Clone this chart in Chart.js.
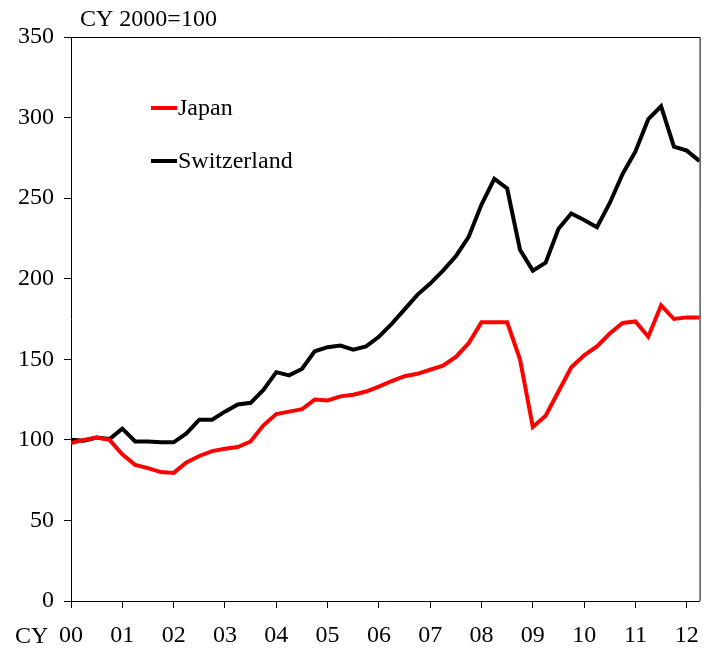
<!DOCTYPE html>
<html lang="en">
<head>
  <meta charset="utf-8">
  <title>Japan vs Switzerland</title>
  <script src="https://cdn.jsdelivr.net/npm/chart.js@4/dist/chart.umd.min.js"></script>
  <style>
    html, body { margin: 0; padding: 0; background: #fff; }
    #wrap { width: 712px; height: 652px; }
  </style>
</head>
<body>
<div id="wrap"><canvas id="myChart" width="712" height="652"></canvas></div>
<script>
// quarterly index, CY 2000 = 100, 2000Q1 .. 2012Q2
var yearLabels = ["00","01","02","03","04","05","06","07","08","09","10","11","12"];
var japan = [98, 100, 101.5, 100, 91, 84.5, 82.5, 80, 79.5, 86, 90, 93, 94.5, 95.5, 99, 109,
  116, 117.5, 119, 125, 124.5, 127, 128, 130, 133, 136.5, 139.5, 141, 143.5, 146, 151.5, 160,
  173, 173, 173, 150, 108, 115, 130, 145, 152.5, 158, 166, 172.5, 173.5, 164, 183.5, 175, 176, 176];
var switzerland = [100, 99.5, 101.5, 100.5, 107, 99, 99, 98.5, 98.5, 104, 112.5, 112.5, 117.5, 122, 123, 131,
  142, 140, 144, 155, 157.5, 158.5, 156, 158, 164, 172, 181, 190, 197, 205, 214, 226,
  246, 262, 256, 218, 205, 210, 231, 240.5, 236.5, 232, 247, 265, 279, 299, 307, 282, 279.5, 273];
var seriesNames = ["Japan", "Switzerland"];
var seriesColors = ["#ff0000", "#000000"];

var FONT = "'Liberation Serif', 'Times New Roman', serif";
var FSIZE = 24;

function toXY(arr) {
  return arr.map(function (v, i) { return { x: i, y: v }; });
}

// frame, legend and extra labels
var extras = {
  id: "extras",
  afterDraw: function (chart) {
    var ctx = chart.ctx, a = chart.chartArea;
    ctx.save();
    ctx.strokeStyle = "#000";
    ctx.lineWidth = 1;
    ctx.beginPath();
    ctx.moveTo(a.left, a.top + 0.5);
    ctx.lineTo(a.right + 0.5, a.top + 0.5);
    ctx.lineTo(a.right + 0.5, a.bottom);
    ctx.stroke();

    ctx.font = FSIZE + "px " + FONT;
    ctx.fillStyle = "#000";
    ctx.textBaseline = "middle";
    ctx.textAlign = "left";
    ctx.fillText("CY 2000=100", 80, 20);
    ctx.fillText("CY", 15, 637);

    for (var i = 0; i < seriesNames.length; i++) {
      var y = 108 + i * 53;
      ctx.strokeStyle = seriesColors[i];
      ctx.lineWidth = 4;
      ctx.beginPath();
      ctx.moveTo(151, y);
      ctx.lineTo(177, y);
      ctx.stroke();
      ctx.fillText(seriesNames[i], 178, y + 1);
    }
    ctx.restore();
  }
};

new Chart("myChart", {
  type: "line",
  data: {
    datasets: [{
      label: seriesNames[0],
      data: toXY(japan),
      borderColor: seriesColors[0],
      borderWidth: 4,
      pointRadius: 0,
      tension: 0,
      fill: false
    }, {
      label: seriesNames[1],
      data: toXY(switzerland),
      borderColor: seriesColors[1],
      borderWidth: 4,
      pointRadius: 0,
      tension: 0,
      fill: false
    }]
  },
  options: {
    responsive: false,
    animation: false,
    layout: { padding: { top: 37, right: 12, left: 0, bottom: 0 } },
    plugins: {
      legend: { display: false },
      tooltip: { enabled: false }
    },
    scales: {
      x: {
        type: "linear",
        min: 0,
        max: 49,
        afterBuildTicks: function (scale) {
          scale.ticks = yearLabels.map(function (l, i) { return { value: i * 4 }; });
        },
        afterFit: function (scale) { scale.height = 51; },
        ticks: {
          color: "#000",
          font: { family: FONT, size: FSIZE },
          padding: 13,
          maxRotation: 0,
          autoSkip: false,
          callback: function (v) { return yearLabels[Math.round(v / 4)]; }
        },
        grid: { drawOnChartArea: false, color: "#000", tickLength: 7 },
        border: { color: "#000", width: 1 }
      },
      y: {
        min: 0,
        max: 350,
        afterFit: function (scale) { scale.width = 71; },
        ticks: {
          stepSize: 50,
          color: "#000",
          font: { family: FONT, size: FSIZE },
          padding: 10
        },
        grid: { drawOnChartArea: false, color: "#000", tickLength: 7 },
        border: { color: "#000", width: 1 }
      }
    }
  },
  plugins: [extras]
});
</script>
</body>
</html>
